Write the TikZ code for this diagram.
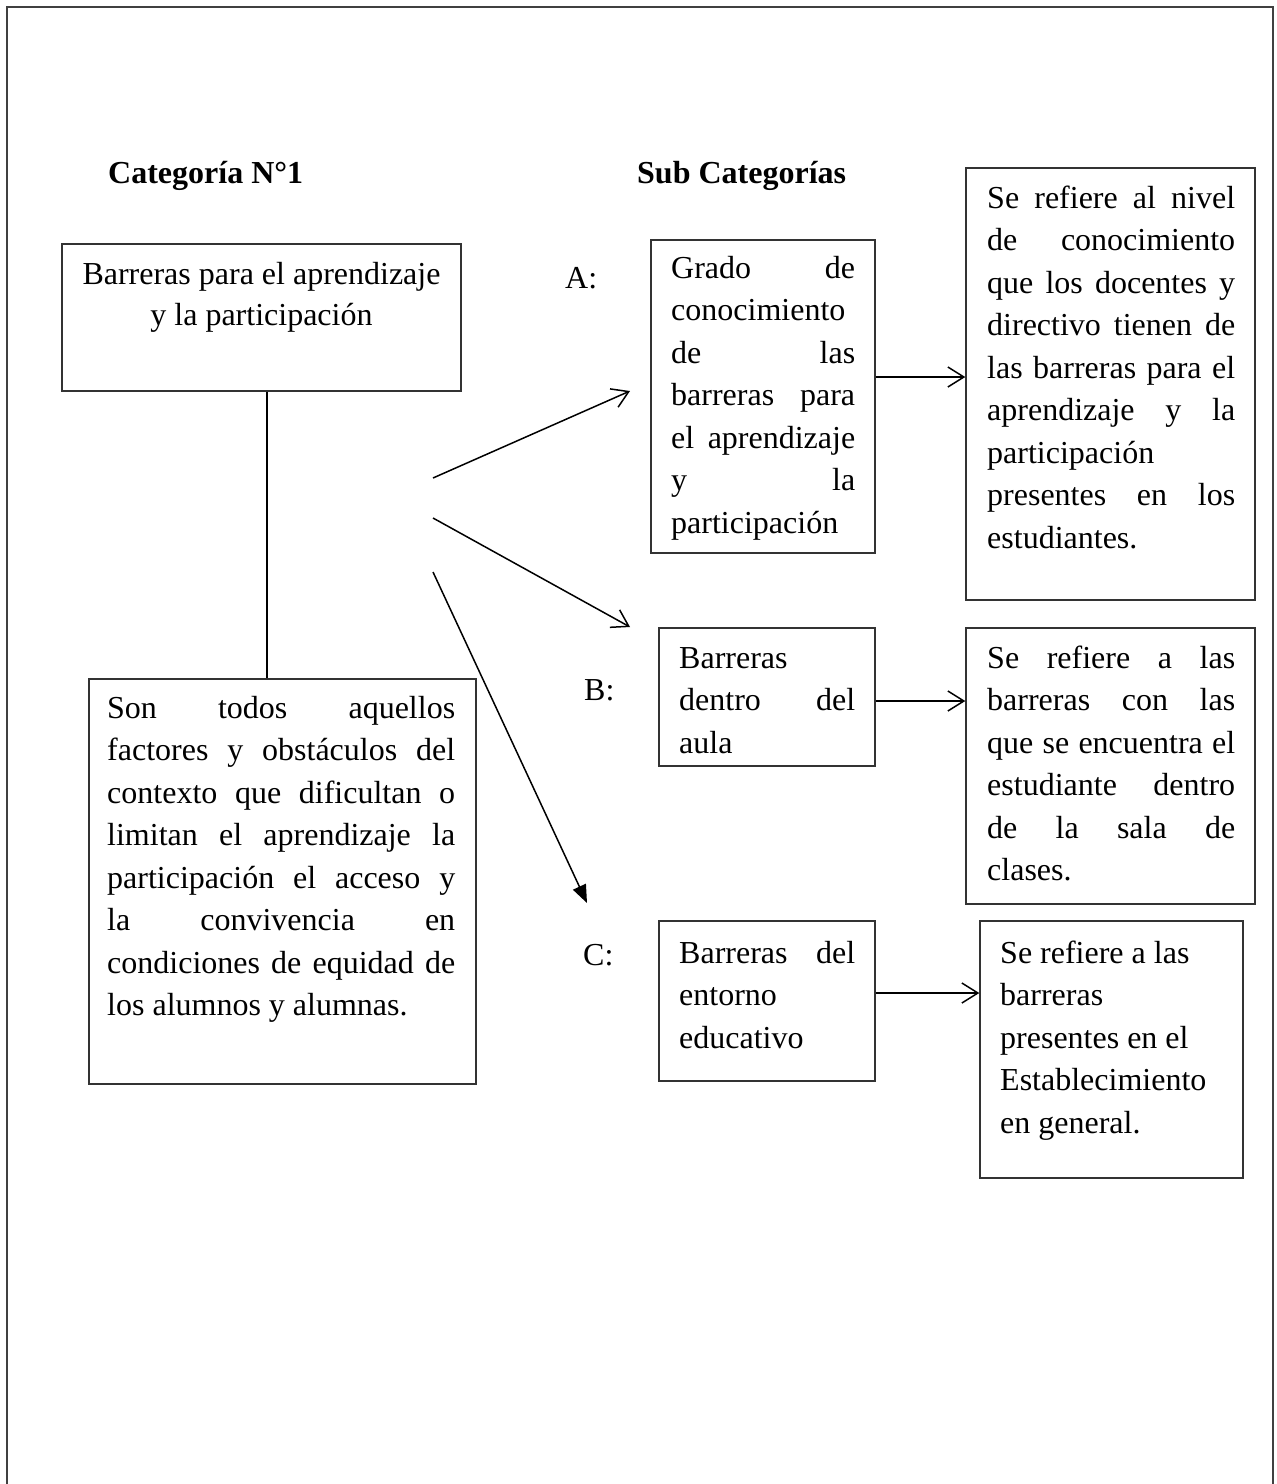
\documentclass[tikz,border=0pt]{standalone}
\usepackage{fontspec}
\setmainfont{Liberation Serif}
\usetikzlibrary{arrows.meta}
\newcommand\jline[1]{\makebox[\linewidth][s]{#1}}
\begin{document}
\begin{tikzpicture}[x=1pt,y=-1pt,
 frame/.style={draw=black!75, line width=2.5pt},
 box/.style={draw=black!80, line width=1.4pt, inner sep=0pt, rectangle},
 txt/.style={inner sep=0pt, anchor=base west, font=\fontsize{32}{42.5}\selectfont},
 head/.style={inner sep=0pt, anchor=base west, font=\fontsize{32}{38}\selectfont\bfseries},
 arr/.style={line width=1.5pt, -{Straight Barb[length=16pt,width=20pt,line width=1.5pt]}},
 farr/.style={line width=1.5pt, -{Triangle[length=18pt,width=14pt]}},
 plain/.style={line width=1.5pt}]
\useasboundingbox (0,0) rectangle (1277,1484);
% outer frame (open at the bottom)
\draw[frame] (7,1490) -- (7,7) -- (1273,7) -- (1273,1490);

% headings
\node[head] (h1) at (108,183) {Categoría N°1};
\node[head] (h2) at (637,183) {Sub Categorías};

% boxes
\node[box, minimum width=399pt, minimum height=147pt] (b1) at (261.5,317.5) {};
\node[box, minimum width=387pt, minimum height=405pt] (d1) at (282.5,881.5) {};
\node[box, minimum width=224pt, minimum height=313pt] (bA) at (763,396.5) {};
\node[box, minimum width=289pt, minimum height=432pt] (rA) at (1110.5,384) {};
\node[box, minimum width=216pt, minimum height=138pt] (bB) at (767,697) {};
\node[box, minimum width=289pt, minimum height=276pt] (rB) at (1110.5,766) {};
\node[box, minimum width=216pt, minimum height=160pt] (bC) at (767,1001) {};
\node[box, minimum width=263pt, minimum height=257pt] (rC) at (1111.5,1049.5) {};

% texts
\node[txt, anchor=base, font=\fontsize{32}{41}\selectfont] (t1) at (261.5,284)
 {\parbox[t]{390pt}{\centering Barreras para el aprendizaje\\ y la participación}};

\node[txt] (td) at (107,718) {\parbox[t]{348pt}{%
\jline{Son todos aquellos}\\
\jline{factores y obstáculos del}\\
\jline{contexto que dificultan o}\\
\jline{limitan el aprendizaje la}\\
\jline{participación el acceso y}\\
\jline{la convivencia en}\\
\jline{condiciones de equidad de}\\
los alumnos y alumnas.}};

\node[txt] (tA) at (671,278) {\parbox[t]{184pt}{%
\jline{Grado de}\\
conocimiento\\
\jline{de las}\\
\jline{barreras para}\\
\jline{el aprendizaje}\\
\jline{y la}\\
participación}};

\node[txt] (trA) at (987,208) {\parbox[t]{248pt}{%
\jline{Se refiere al nivel}\\
\jline{de conocimiento}\\
\jline{que los docentes y}\\
\jline{directivo tienen de}\\
\jline{las barreras para el}\\
\jline{aprendizaje y la}\\
participación\\
\jline{presentes en los}\\
estudiantes.}};

\node[txt] (tB) at (679,668) {\parbox[t]{176pt}{%
Barreras\\
\jline{dentro del}\\
aula}};

\node[txt] (trB) at (987,668) {\parbox[t]{248pt}{%
\jline{Se refiere a las}\\
\jline{barreras con las}\\
\jline{que se encuentra el}\\
\jline{estudiante dentro}\\
\jline{de la sala de}\\
clases.}};

\node[txt] (tC) at (679,963) {\parbox[t]{176pt}{%
\jline{Barreras del}\\
entorno\\
educativo}};

\node[txt] (trC) at (1000,963) {\parbox[t]{240pt}{%
Se refiere a las\\
barreras\\
presentes en el\\
Establecimiento\\
en general.}};

% labels
\node[txt] (lA) at (565,288) {A:};
\node[txt] (lB) at (584,700) {B:};
\node[txt] (lC) at (583,965) {C:};

% connectors
\coordinate (vx) at (267,0);
\draw[plain] (b1.south -| vx) -- (d1.north -| vx);

\coordinate (s1) at (433,478);
\coordinate (e1) at (630,391);
\coordinate (s2) at (433,518);
\coordinate (e2) at (630,627);
\coordinate (s3) at (433,572);
\coordinate (e3) at (587,903);
\draw[arr] (s1) -- (e1);
\draw[arr] (s2) -- (e2);
\draw[farr] (s3) -- (e3);

\coordinate (ya) at (0,377);
\coordinate (yb) at (0,701);
\coordinate (yc) at (0,993);
\draw[arr] (bA.east |- ya) -- (rA.west |- ya);
\draw[arr] (bB.east |- yb) -- (rB.west |- yb);
\draw[arr] (bC.east |- yc) -- (rC.west |- yc);
\end{tikzpicture}
\end{document}
